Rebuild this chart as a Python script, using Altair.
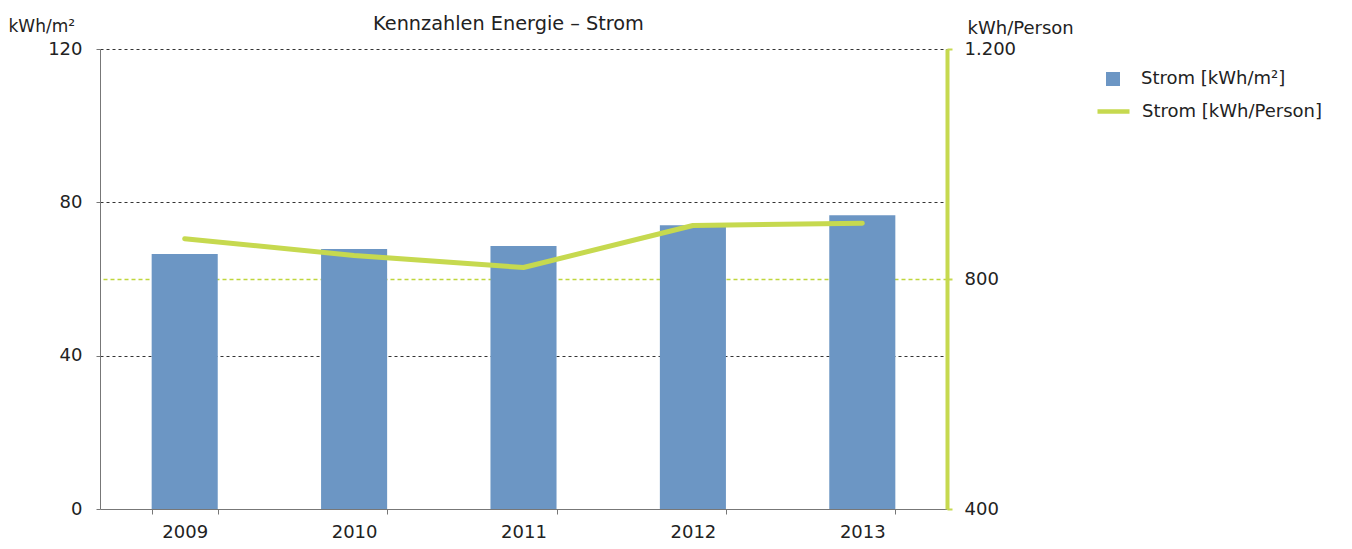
import altair as alt
import pandas as pd

years = ["2009", "2010", "2011", "2012", "2013"]
strom_m2 = [66.5, 67.8, 68.6, 74.0, 76.6]
strom_person = [870, 841, 820, 893, 897]
left_ticks = [0, 40, 80, 120]
right_ticks = [400, 800, 1200]

df = pd.DataFrame({"Jahr": years, "m2": strom_m2, "person": strom_person})

FONT = "DejaVu Sans"
BAR = "#6c96c4"
GREEN = "#c6d94f"
TXT = "#222"

x = alt.X("Jahr:N", title=None,
          scale=alt.Scale(paddingInner=0.61, paddingOuter=0.305),
          axis=alt.Axis(labelAngle=0, tickBand="extent", domainColor="#777",
                        tickColor="#777", tickSize=5, labelPadding=9,
                        labelFontSize=18, labelColor=TXT, labelFont=FONT))

bars = alt.Chart(df).mark_bar(color=BAR).encode(
    x=x,
    y=alt.Y("m2:Q", title="kWh/m²",
            scale=alt.Scale(domain=[0, 120], nice=False),
            axis=alt.Axis(values=left_ticks, orient="left", domainColor="#777",
                          tickColor="#777", tickSize=4, labelPadding=14,
                          labelFontSize=18, labelColor=TXT, labelFont=FONT,
                          grid=True, gridColor="#333", gridDash=[3, 3],
                          gridOpacity={"condition": {"test": "datum.value === 0", "value": 0}, "value": 1},
                          titleAngle=0, titleAlign="left", titleBaseline="alphabetic",
                          titleX=-92, titleY=-18, titleFont=FONT, titleFontSize=17,
                          titleFontWeight="normal", titleColor=TXT)),
    color=alt.Color("lab:N", scale=alt.Scale(domain=["Strom [kWh/m²]"], range=[BAR]),
                    legend=alt.Legend(title=None, orient="none", legendX=1004, legendY=21,
                                      symbolType="square", symbolSize=196, symbolStrokeWidth=0,
                                      labelOffset=19, labelFontSize=18, labelFont=FONT,
                                      labelColor=TXT, labelLimit=400, padding=0)),
).transform_calculate(lab="'Strom [kWh/m²]'")

line = alt.Chart(df).mark_line(strokeWidth=5, strokeCap="round", strokeJoin="round").encode(
    x=x,
    y=alt.Y("person:Q", title="kWh/Person",
            scale=alt.Scale(domain=[400, 1200], nice=False),
            axis=alt.Axis(values=right_ticks, orient="right", domainColor=GREEN, domainWidth=4,
                          tickColor=GREEN, tickWidth=2, tickSize=5, labelPadding=12,
                          labelFontSize=18, labelColor=TXT, labelFont=FONT,
                          labelExpr="datum.value >= 1000 ? replace(format(datum.value, ','), ',', '.') : format(datum.value, 'd')",
                          grid=True, gridColor="#bfd63c", gridDash=[4, 3], gridWidth=1.5,
                          gridOpacity={"condition": {"test": "datum.value === 800", "value": 1}, "value": 0},
                          titleAngle=0, titleAlign="left", titleBaseline="alphabetic",
                          titleX=20, titleY=-16, titleFont=FONT, titleFontSize=18,
                          titleFontWeight="normal", titleColor=TXT)),
    stroke=alt.Stroke("lab:N", scale=alt.Scale(domain=["Strom [kWh/Person]"], range=[GREEN]),
                      legend=alt.Legend(title=None, orient="none", legendX=995, legendY=44,
                                        symbolType="stroke", symbolSize=1024, symbolStrokeWidth=4.5,
                                        labelOffset=10, labelFontSize=18, labelFont=FONT,
                                        labelColor=TXT, labelLimit=400, padding=0)),
).transform_calculate(lab="'Strom [kWh/Person]'")

chart = alt.layer(bars, line).resolve_scale(y="independent", color="independent", stroke="independent").properties(
    width=847, height=460,
    autosize=alt.AutoSizeParams(type="none"),
    padding={"left": 92, "top": 41, "right": 397, "bottom": 32},
    title=alt.TitleParams("Kennzahlen Energie – Strom", anchor="middle", dx=-15, offset=-32,
                          baseline="alphabetic", font=FONT, fontSize=19.3,
                          fontWeight="normal", color=TXT),
).configure_view(stroke=None)

chart.save("out.html", embed_options={"renderer": "svg", "actions": False})
